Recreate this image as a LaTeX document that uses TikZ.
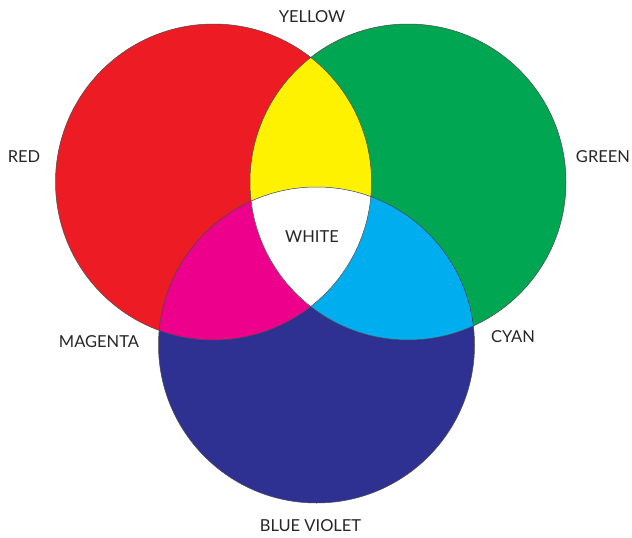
\documentclass[tikz,border=0pt]{standalone}
\usepackage{fontspec}
\setmainfont{Lato}
\begin{document}
\begin{tikzpicture}[x=1pt,y=-1pt,
  lbl/.style={font=\fontsize{16.5}{18}\selectfont, text=black!85, inner sep=0pt},
  rim/.style={draw=black!70, line width=0.5pt}]
\definecolor{cred}{HTML}{ED1C24}
\definecolor{cgreen}{HTML}{00A651}
\definecolor{cblue}{HTML}{2E3192}
\definecolor{cyellow}{HTML}{FFF200}
\definecolor{ccyan}{HTML}{00AEEF}
\definecolor{cmag}{HTML}{EC008C}
\useasboundingbox (0,0) rectangle (632,538);
\fill[white] (0,0) rectangle (632,538);
\coordinate (R) at (213.5,182);
\coordinate (G) at (408,182);
\coordinate (B) at (316.5,345);
\def\rad{158}
% primaries
\fill[cred] (R) circle[radius=\rad];
\fill[cgreen] (G) circle[radius=\rad];
\fill[cblue] (B) circle[radius=\rad];
% secondaries
\begin{scope}
  \clip (R) circle[radius=\rad];
  \fill[cyellow] (G) circle[radius=\rad];
  \fill[cmag] (B) circle[radius=\rad];
  \clip (G) circle[radius=\rad];
  \fill[white] (B) circle[radius=\rad];
\end{scope}
\begin{scope}
  \clip (G) circle[radius=\rad];
  \clip (B) circle[radius=\rad];
  \fill[ccyan] (B) circle[radius=\rad];
  \clip (R) circle[radius=\rad];
  \fill[white] (B) circle[radius=\rad];
\end{scope}
% outlines
\draw[rim] (R) circle[radius=\rad];
\draw[rim] (G) circle[radius=\rad];
\draw[rim] (B) circle[radius=\rad];
% labels
\node[lbl] (yellow) at (312,17) {YELLOW};
\node[lbl] (red) at (24,157) {RED};
\node[lbl] (green) at (603,157) {GREEN};
\node[lbl] (white) at (312,237) {WHITE};
\node[lbl] (magenta) at (99,342) {MAGENTA};
\node[lbl] (cyan) at (513,337) {CYAN};
\node[lbl] (blueviolet) at (310.5,526) {BLUE VIOLET};
\end{tikzpicture}
\end{document}
